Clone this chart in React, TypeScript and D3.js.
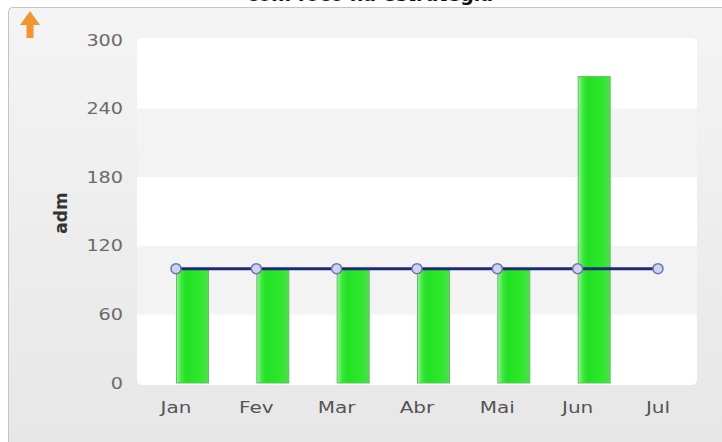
import React from "react";
import * as d3 from "d3";

// chart data
const months = ["Jan", "Fev", "Mar", "Abr", "Mai", "Jun", "Jul"];
const barValues = [100, 100, 100, 100, 100, 268, null];
const metaValues = [100, 100, 100, 100, 100, 100, 100];
const yTicks = [0, 60, 120, 180, 240, 300];
const title = "com foco na estrategia";
const yTitle = "adm";

const W = 722;
const H = 442;
const plot = { left: 137, right: 697, top: 40, bottom: 383 };

const App = () => {
  const x = d3
    .scalePoint<string>()
    .domain(months)
    .range([176, 658]);

  const y = d3.scaleLinear().domain([0, 300]).range([plot.bottom, plot.top]);

  const barW = 32;

  const line = d3
    .line<number>()
    .x((_, i) => x(months[i]) as number)
    .y((d) => y(d));

  // alternating bands between ticks
  const bands = d3.pairs(yTicks).map(([a, b], i) => ({ a, b, i }));

  return (
    <svg
      width={W}
      height={H}
      style={{ position: "absolute", left: 0, top: 0, fontFamily: "DejaVu Sans, Verdana, sans-serif" }}
    >
      <defs>
        <linearGradient id="panelBg" x1="0" y1="0" x2="0" y2="1">
          <stop offset="0" stopColor="#f4f4f4" />
          <stop offset="1" stopColor="#e6e6e6" />
        </linearGradient>
        <linearGradient id="barFill" x1="0" y1="0" x2="1" y2="0">
          <stop offset="0" stopColor="#9ef09e" />
          <stop offset="0.15" stopColor="#3ee83e" />
          <stop offset="0.3" stopColor="#22e022" />
          <stop offset="0.75" stopColor="#2ee82e" />
          <stop offset="1" stopColor="#52dc52" />
        </linearGradient>
      </defs>

      <rect x={0} y={0} width={W} height={H} fill="#ffffff" />
      {/* panel */}
      <rect x={8.5} y={7.5} width={W + 20} height={H + 20} rx={4} fill="url(#panelBg)" stroke="#c4c4c4" />

      {/* title, cut at the top */}
      <text x={370} y={1} textAnchor="middle" fontSize={19} fontWeight="bold" fill="#111">
        {title}
      </text>

      {/* orange arrow */}
      <path
        d="M30,11 L40,25 L33.5,25 L33.5,38 L26.5,38 L26.5,25 L20,25 Z"
        fill="#f2891a"
        opacity={0.9}
      />

      {/* plot background */}
      <rect
        x={plot.left}
        y={plot.top - 2}
        width={plot.right - plot.left}
        height={plot.bottom - plot.top + 4}
        rx={5}
        fill="#ffffff"
      />
      {bands
        .filter((d) => d.i % 2 === 1)
        .map((d) => (
          <rect
            key={d.a}
            x={plot.left}
            y={y(d.b)}
            width={plot.right - plot.left}
            height={y(d.a) - y(d.b)}
            fill="#f3f3f3"
          />
        ))}

      {/* y axis labels */}
      {yTicks.map((t) => (
        <text
          key={t}
          transform={`translate(123,${y(t)}) scale(1.2,1)`}
          dy="0.35em"
          textAnchor="end"
          fontSize={16}
          fill="#6a6a6a"
        >
          {t}
        </text>
      ))}
      <text
        transform={`translate(67,213) rotate(-90)`}
        textAnchor="middle"
        fontSize={17}
        fontWeight="bold"
        fill="#333"
      >
        {yTitle}
      </text>

      {/* x labels */}
      {months.map((m) => (
        <text
          key={m}
          transform={`translate(${x(m)},407) scale(1.25,1)`}
          dy="0.35em"
          textAnchor="middle"
          fontSize={16}
          fill="#555"
        >
          {m}
        </text>
      ))}

      {/* bars */}
      {barValues.map((v, i) =>
        v == null ? null : (
          <rect
            key={months[i]}
            x={(x(months[i]) as number) + 0.5}
            y={y(v)}
            width={barW}
            height={y(0) - y(v)}
            fill="url(#barFill)"
            stroke="#5cc45c"
            strokeWidth={1}
          />
        )
      )}

      {/* meta line */}
      <path d={line(metaValues) || ""} fill="none" stroke="#1c2a78" strokeWidth={3} />
      {metaValues.map((v, i) => (
        <circle
          key={months[i]}
          cx={x(months[i]) as number}
          cy={y(v)}
          r={5}
          fill="#cdd2ee"
          stroke="#6b76b4"
          strokeWidth={1.5}
        />
      ))}
    </svg>
  );
};

export default App;
